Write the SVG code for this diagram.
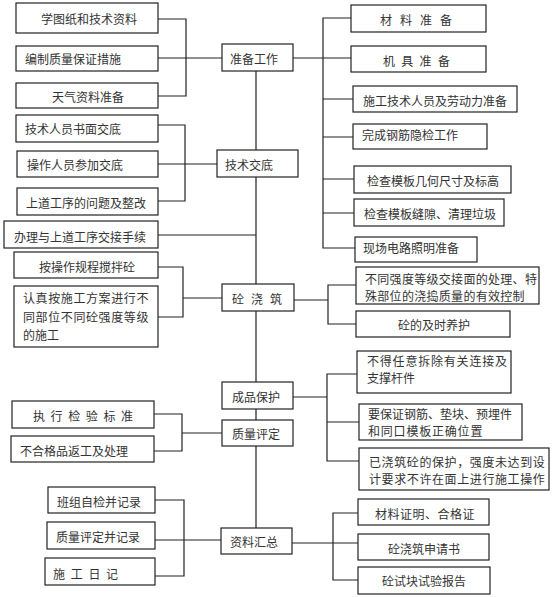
<svg xmlns="http://www.w3.org/2000/svg" width="554" height="597" viewBox="0 0 554 597">
<style>
rect{fill:#fff;stroke:#222;stroke-width:1.2}
.c path{fill:none;stroke:#222;stroke-width:1.2}
text{font-family:"Noto Sans CJK SC","Noto Sans",sans-serif;font-size:12px;fill:#333;dominant-baseline:central}
</style>
<rect x="0" y="0" width="554" height="597" style="stroke:none"/>
<g class="c" id="connectors">
<path d="M158 19H186V96H158M158 58H222"/>
<path d="M158 125H185V201H158M158 164H217"/>
<path d="M256 71V150M256 177V284M158 235H256"/>
<path d="M158 267H183V317H158M183 298H222"/>
<path d="M256 311V382M256 409V420M256 446V528"/>
<path d="M154 414H182V451H154M182 433H222"/>
<path d="M155 500H184V576H155M155 540H221"/>
<path d="M293 58H351M351 18H323V248H355M323 99H353M323 137H353M323 179H354M323 213H354"/>
<path d="M294 300H328M356 285H328V324H356"/>
<path d="M293 397H327M357 374H327V461H359M327 422H359"/>
<path d="M292 543H358M358 513H333V580H358"/>
</g>
<g id="n-l1"><rect x="16" y="3" width="142" height="30"/><text x="41" y="18">学图纸和技术资料</text></g>
<g id="n-l2"><rect x="16" y="46" width="142" height="25"/><text x="25" y="58">编制质量保证措施</text></g>
<g id="n-l3"><rect x="16" y="83" width="142" height="25"/><text x="52" y="96">天气资料准备</text></g>
<g id="n-l4"><rect x="16" y="115" width="142" height="27"/><text x="25" y="128">技术人员书面交底</text></g>
<g id="n-l5"><rect x="17" y="151" width="141" height="26"/><text x="27" y="164">操作人员参加交底</text></g>
<g id="n-l6"><rect x="17" y="188" width="141" height="27"/><text x="26" y="202">上道工序的问题及整改</text></g>
<g id="n-l7"><rect x="4" y="221" width="154" height="27"/><text x="14" y="236">办理与上道工序交接手续</text></g>
<g id="n-l8"><rect x="14" y="252" width="144" height="26"/><text x="39" y="266">按操作规程搅拌砼</text></g>
<g id="n-l9"><rect x="14" y="286" width="144" height="61"/><text x="23" y="297" letter-spacing="0.6">认真按施工方案进行不</text><text x="23" y="316" letter-spacing="0.6">同部位不同砼强度等级</text><text x="23" y="334">的施工</text></g>
<g id="n-l10"><rect x="12" y="401" width="142" height="27"/><text x="33" y="415" letter-spacing="5.6">执行检验标准</text></g>
<g id="n-l11"><rect x="11" y="436" width="143" height="26"/><text x="20" y="450">不合格品返工及处理</text></g>
<g id="n-l12"><rect x="48" y="487" width="107" height="26"/><text x="57" y="501">班组自检并记录</text></g>
<g id="n-l13"><rect x="47" y="522" width="108" height="27"/><text x="56" y="536">质量评定并记录</text></g>
<g id="n-l14"><rect x="45" y="558" width="110" height="27"/><text x="53" y="573" letter-spacing="5.7">施工日记</text></g>
<g id="n-c1"><rect x="222" y="44" width="71" height="27"/><text x="230" y="58">准备工作</text></g>
<g id="n-c2"><rect x="217" y="150" width="81" height="27"/><text x="225" y="164">技术交底</text></g>
<g id="n-c3"><rect x="222" y="284" width="72" height="27"/><text x="232" y="298" letter-spacing="7">砼浇筑</text></g>
<g id="n-c4"><rect x="222" y="382" width="71" height="27"/><text x="232" y="396">成品保护</text></g>
<g id="n-c5"><rect x="222" y="420" width="71" height="26"/><text x="232" y="433">质量评定</text></g>
<g id="n-c6"><rect x="221" y="528" width="71" height="26"/><text x="230" y="541">资料汇总</text></g>
<g id="n-r1"><rect x="351" y="5" width="135" height="27"/><text x="380" y="19" letter-spacing="8">材料准备</text></g>
<g id="n-r2"><rect x="351" y="46" width="135" height="26"/><text x="383" y="60" letter-spacing="6.3">机具准备</text></g>
<g id="n-r3"><rect x="353" y="86" width="164" height="26"/><text x="363" y="100">施工技术人员及劳动力准备</text></g>
<g id="n-r4"><rect x="353" y="124" width="134" height="25"/><text x="362" y="134">完成钢筋隐检工作</text></g>
<g id="n-r5"><rect x="354" y="166" width="157" height="27"/><text x="367" y="180">检查模板几何尺寸及标高</text></g>
<g id="n-r6"><rect x="354" y="199" width="150" height="27"/><text x="364" y="213">检查模板缝隙、清理垃圾</text></g>
<g id="n-r7"><rect x="355" y="237" width="122" height="25"/><text x="363" y="247">现场电路照明准备</text></g>
<g id="n-r8"><rect x="356" y="267" width="183" height="37"/><text x="365" y="278" letter-spacing="0.3">不同强度等级交接面的处理、特</text><text x="365" y="295" letter-spacing="0.3">殊部位的浇捣质量的有效控制</text></g>
<g id="n-r9"><rect x="356" y="311" width="154" height="26"/><text x="398" y="324">砼的及时养护</text></g>
<g id="n-r10"><rect x="357" y="351" width="154" height="42"/><text x="367" y="360" letter-spacing="0.8">不得任意拆除有关连接及</text><text x="367" y="377">支撑杆件</text></g>
<g id="n-r11"><rect x="359" y="404" width="163" height="36"/><text x="368" y="413">要保证钢筋、垫块、预埋件</text><text x="368" y="430" letter-spacing="0.8">和同口模板正确位置</text></g>
<g id="n-r12"><rect x="359" y="448" width="190" height="42"/><text x="369" y="461" letter-spacing="0.6">已浇筑砼的保护，强度未达到设</text><text x="369" y="478" letter-spacing="0.6">计要求不许在面上进行施工操作</text></g>
<g id="n-r13"><rect x="358" y="499" width="131" height="26"/><text x="375" y="513" letter-spacing="0.5">材料证明、合格证</text></g>
<g id="n-r14"><rect x="358" y="534" width="131" height="26"/><text x="388" y="548">砼浇筑申请书</text></g>
<g id="n-r15"><rect x="358" y="567" width="132" height="27"/><text x="382" y="580">砼试块试验报告</text></g>
</svg>
